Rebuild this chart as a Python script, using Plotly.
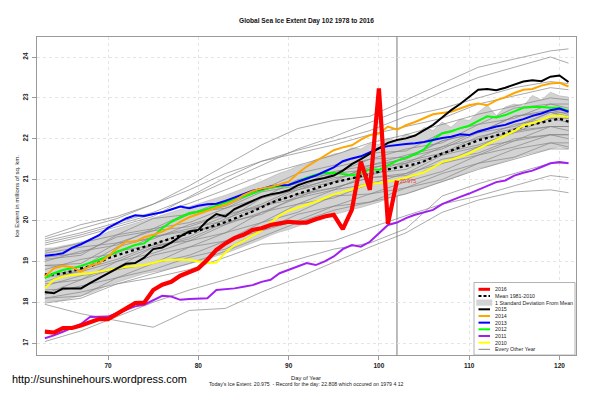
import plotly.graph_objects as go

# ---------------- data ----------------
days = list(range(63, 122))          # day of year for the historical series
days_2016 = list(range(63, 103))     # 2016 so far

y2016 = [17.28, 17.26, 17.37, 17.37, 17.43, 17.51, 17.59, 17.59, 17.72, 17.86,
         17.98, 17.99, 18.30, 18.43, 18.50, 18.65, 18.75, 18.83, 19.04, 19.28,
         19.44, 19.57, 19.65, 19.77, 19.81, 19.89, 19.93, 19.97, 19.95, 19.95,
         20.03, 20.10, 20.14, 19.79, 20.26, 21.44, 20.75, 23.23, 19.92, 20.975]

y2015 = [18.25, 18.22, 18.34, 18.34, 18.34, 18.47, 18.59, 18.73, 18.83, 18.94,
         18.96, 19.09, 19.30, 19.34, 19.46, 19.61, 19.73, 19.77, 20.00, 20.16,
         20.10, 20.28, 20.38, 20.50, 20.58, 20.64, 20.68, 20.74, 20.86, 20.94,
         21.00, 21.04, 21.10, 21.22, 21.38, 21.50, 21.64, 21.77, 21.90, 21.97,
         22.01, 22.08, 22.20, 22.34, 22.52, 22.70, 22.85, 23.02, 23.20, 23.22,
         23.19, 23.25, 23.33, 23.40, 23.43, 23.41, 23.52, 23.55, 23.39]

y2014 = [18.63, 18.83, 18.89, 18.86, 18.75, 18.89, 18.96, 19.12, 19.32, 19.48,
         19.48, 19.59, 19.65, 19.73, 19.83, 19.97, 20.08, 20.16, 20.24, 20.32,
         20.38, 20.48, 20.62, 20.72, 20.78, 20.82, 20.88, 20.95, 21.15, 21.32,
         21.45, 21.58, 21.72, 21.79, 21.84, 21.98, 22.09, 22.13, 22.30, 22.22,
         22.33, 22.41, 22.51, 22.60, 22.63, 22.66, 22.74, 22.82, 22.86, 22.82,
         22.94, 23.02, 23.12, 23.20, 23.22, 23.30, 23.35, 23.37, 23.28]

y2013 = [19.14, 19.16, 19.20, 19.33, 19.42, 19.52, 19.64, 19.82, 19.94, 20.05,
         20.13, 20.11, 20.16, 20.20, 20.27, 20.34, 20.30, 20.36, 20.40, 20.41,
         20.48, 20.56, 20.65, 20.73, 20.77, 20.83, 20.86, 20.87, 20.95, 21.03,
         21.10, 21.20, 21.30, 21.45, 21.52, 21.57, 21.68, 21.77, 21.82, 21.85,
         21.87, 21.89, 21.92, 21.97, 22.02, 22.05, 22.11, 22.09, 22.18, 22.24,
         22.30, 22.34, 22.42, 22.48, 22.56, 22.62, 22.70, 22.74, 22.66]

y2012 = [18.59, 18.71, 18.79, 18.83, 18.89, 18.96, 19.04, 19.13, 19.24, 19.32,
         19.40, 19.44, 19.61, 19.81, 19.97, 20.08, 20.17, 20.22, 20.28, 20.36,
         20.44, 20.52, 20.58, 20.66, 20.74, 20.80, 20.84, 20.86, 20.95, 21.05,
         21.12, 21.16, 21.17, 21.14, 21.11, 21.16, 21.25, 21.24, 21.36, 21.46,
         21.54, 21.62, 21.74, 21.98, 22.13, 22.18, 22.26, 22.32, 22.44, 22.55,
         22.52, 22.58, 22.67, 22.76, 22.78, 22.78, 22.76, 22.76, 22.68]

y2011 = [17.12, 17.19, 17.28, 17.37, 17.47, 17.64, 17.65, 17.65, 17.73, 17.81,
         17.90, 17.94, 18.06, 18.16, 18.14, 18.06, 18.08, 18.09, 18.10, 18.30,
         18.32, 18.34, 18.38, 18.42, 18.50, 18.55, 18.71, 18.79, 18.88, 18.96,
         18.91, 19.00, 19.12, 19.30, 19.40, 19.36, 19.48, 19.69, 19.89, 19.95,
         20.06, 20.14, 20.20, 20.26, 20.40, 20.50, 20.58, 20.66, 20.76, 20.85,
         20.94, 20.98, 21.10, 21.17, 21.22, 21.31, 21.40, 21.43, 21.40]

y2010 = [18.34, 18.55, 18.63, 18.67, 18.69, 18.71, 18.75, 18.79, 18.83, 18.87,
         18.89, 18.91, 18.96, 19.02, 19.04, 19.04, 19.04, 19.00, 18.96, 18.97,
         19.22, 19.40, 19.50, 19.63, 19.76, 19.95, 20.12, 20.24, 20.31, 20.38,
         20.46, 20.55, 20.64, 20.70, 20.76, 20.84, 20.90, 20.92, 20.95, 20.99,
         21.05, 21.11, 21.18, 21.30, 21.43, 21.49, 21.57, 21.64, 21.76, 21.87,
         21.98, 22.07, 22.19, 22.33, 22.38, 22.46, 22.55, 22.57, 22.53]

mean_1981_2010 = [18.68, 18.68, 18.71, 18.76, 18.83, 18.88, 18.97, 19.08, 19.15, 19.22,
                  19.29, 19.36, 19.42, 19.49, 19.56, 19.63, 19.69, 19.75, 19.82, 19.89,
                  19.96, 20.05, 20.13, 20.22, 20.32, 20.43, 20.51, 20.57, 20.65, 20.72,
                  20.80, 20.87, 20.93, 20.98, 21.03, 21.08, 21.14, 21.19, 21.25, 21.29,
                  21.33, 21.38, 21.45, 21.55, 21.64, 21.71, 21.79, 21.88, 21.96, 22.02,
                  22.08, 22.14, 22.22, 22.30, 22.35, 22.40, 22.45, 22.49, 22.42]

sd_upper = [19.32, 19.33, 19.38, 19.42, 19.48, 19.53, 19.62, 19.72, 19.80, 19.87,
            19.93, 20.00, 20.06, 20.13, 20.20, 20.27, 20.33, 20.40, 20.47, 20.55,
            20.62, 20.70, 20.78, 20.87, 20.96, 21.07, 21.16, 21.23, 21.33, 21.38,
            21.49, 21.55, 21.63, 21.66, 21.78, 21.75, 21.88, 21.86, 22.00, 21.95,
            22.12, 22.05, 22.28, 22.20, 22.41, 22.28, 22.48, 22.45, 22.65, 22.82,
            22.57, 22.78, 22.85, 22.80, 23.06, 22.95, 23.14, 23.05, 23.02]

sd_lower = [18.02, 18.03, 18.05, 18.10, 18.16, 18.22, 18.31, 18.42, 18.49, 18.56,
            18.63, 18.70, 18.74, 18.78, 18.84, 18.88, 18.94, 19.00, 19.06, 19.13,
            19.20, 19.28, 19.36, 19.45, 19.54, 19.64, 19.72, 19.78, 19.86, 19.94,
            20.02, 20.09, 20.15, 20.20, 20.27, 20.32, 20.38, 20.45, 20.54, 20.60,
            20.66, 20.72, 20.80, 20.88, 20.95, 21.02, 21.10, 21.20, 21.28, 21.32,
            21.40, 21.46, 21.53, 21.60, 21.65, 21.70, 21.76, 21.80, 21.75]

# every-other-year thin grey lines, sampled on these days
grey_days = [63, 67, 71, 75, 79, 83, 87, 91, 95, 99, 103, 107, 111, 115, 119, 121]
grey_years = [
    [19.55, 19.80, 20.05, 20.40, 20.85, 21.35, 21.85, 22.25, 22.45, 22.55, 22.95, 23.35, 23.75, 23.95, 24.15, 24.20],
    [19.50, 19.70, 19.95, 20.20, 20.55, 20.95, 21.35, 21.75, 22.05, 22.40, 22.75, 23.15, 23.50, 23.75, 24.00, 23.85],
    [19.40, 19.60, 19.85, 20.10, 20.58, 21.05, 21.45, 21.72, 21.95, 22.20, 22.55, 22.74, 23.00, 23.25, 23.40, 23.35],
    [19.60, 19.90, 20.10, 20.40, 20.75, 21.15, 21.45, 21.65, 21.85, 22.10, 22.30, 22.50, 22.85, 23.05, 23.25, 23.20],
    [19.45, 19.65, 19.90, 20.15, 20.42, 20.75, 21.10, 21.35, 21.60, 21.90, 22.10, 22.35, 22.60, 22.80, 23.00, 22.95],
    [19.25, 19.45, 19.65, 20.05, 20.15, 20.50, 20.75, 21.15, 21.35, 21.65, 21.70, 22.15, 22.35, 22.75, 22.85, 22.85],
    [19.10, 19.20, 19.60, 19.75, 20.15, 20.35, 20.75, 20.90, 21.30, 21.50, 21.75, 21.90, 22.35, 22.50, 22.85, 22.75],
    [19.00, 19.25, 19.40, 19.80, 19.95, 20.30, 20.55, 21.00, 21.15, 21.50, 21.55, 21.95, 22.15, 22.55, 22.65, 22.65],
    [18.90, 18.95, 19.45, 19.55, 19.90, 20.15, 20.55, 20.80, 21.15, 21.25, 21.55, 21.75, 22.15, 22.30, 22.65, 22.55],
    [18.80, 19.05, 19.20, 19.60, 19.75, 20.10, 20.40, 20.80, 21.00, 21.30, 21.40, 21.80, 22.00, 22.35, 22.50, 22.50],
    [18.65, 18.80, 19.25, 19.40, 19.75, 19.90, 20.35, 20.55, 20.95, 21.10, 21.40, 21.60, 22.00, 22.15, 22.50, 22.40],
    [18.60, 18.75, 19.00, 19.35, 19.55, 19.95, 20.15, 20.60, 20.80, 21.05, 21.15, 21.60, 21.80, 22.20, 22.30, 22.30],
    [18.45, 18.55, 19.00, 19.20, 19.50, 19.70, 20.20, 20.40, 20.75, 20.90, 21.15, 21.40, 21.80, 21.95, 22.30, 22.20],
    [18.40, 18.65, 18.80, 19.15, 19.35, 19.70, 19.95, 20.40, 20.55, 20.90, 21.00, 21.40, 21.60, 21.95, 22.10, 22.10],
    [18.30, 18.35, 18.80, 18.95, 19.35, 19.50, 19.95, 20.20, 20.60, 20.65, 20.95, 21.20, 21.60, 21.80, 22.10, 22.00],
    [18.20, 18.40, 18.60, 18.95, 19.15, 19.50, 19.75, 20.15, 20.35, 20.65, 20.80, 21.15, 21.40, 21.75, 21.90, 21.90],
    [18.10, 18.15, 18.60, 18.80, 19.10, 19.30, 19.75, 20.00, 20.35, 20.45, 20.80, 21.00, 21.40, 21.55, 21.90, 21.80],
    [17.98, 18.10, 18.45, 18.70, 18.95, 19.25, 19.60, 19.95, 20.25, 20.45, 20.65, 20.95, 21.25, 21.50, 21.75, 21.75],
    [18.20, 18.55, 18.85, 19.35, 19.60, 20.05, 20.35, 20.75, 20.95, 21.35, 21.50, 21.95, 22.15, 22.55, 22.70, 22.70],
    [19.20, 19.35, 19.45, 19.75, 19.85, 20.15, 20.35, 20.65, 20.80, 21.05, 21.10, 21.50, 21.65, 22.00, 22.10, 22.10],
    [18.90, 18.85, 19.35, 19.60, 19.80, 20.00, 20.55, 20.75, 21.05, 21.15, 21.45, 21.65, 22.05, 22.25, 22.65, 22.50],
    [18.50, 18.80, 19.05, 19.40, 19.50, 19.90, 20.20, 20.55, 20.75, 21.15, 21.25, 21.65, 21.85, 22.15, 22.30, 22.30],
    [19.05, 19.15, 19.65, 19.80, 20.20, 20.30, 20.70, 20.85, 21.20, 21.35, 21.60, 21.80, 22.20, 22.40, 22.70, 22.60],
    [17.95, 17.72, 17.55, 17.39, 17.80, 17.85, 18.25, 18.60, 18.98, 19.35, 19.70, 20.20, 20.50, 20.70, 20.75, 20.68],
    [17.04, 17.30, 17.65, 18.00, 18.30, 18.55, 18.82, 19.05, 19.30, 19.45, 19.80, 20.60, 20.90, 21.15, 21.40, 21.40],
    [18.10, 18.25, 18.45, 18.60, 18.80, 19.10, 19.42, 19.47, 19.50, 19.82, 20.12, 20.40, 20.60, 20.85, 21.10, 21.05],
]

x_ticks = [70, 80, 90, 100, 110, 120]
y_ticks = [17, 18, 19, 20, 21, 22, 23, 24]

title_text = "Global Sea Ice Extent Day 102 1978 to 2016"
x_title = "Day of Year"
y_title = "Ice Extent in millions of sq. km."
footnote = "Today's Ice Extent: 20.975  - Record for the day: 22.808 which occured on 1979 4 12"
website = "http://sunshinehours.wordpress.com"

legend_labels = ["2016", "Mean 1981-2010", "1 Standard Deviation From Mean", "2015", "2014",
                 "2013", "2012", "2011", "2010", "Every Other Year"]

# ---------------- styling ----------------
FONT = "Liberation Sans, Arial, sans-serif"
C = {"2016": "#FF0000", "2015": "#000000", "2014": "#FFA500", "2013": "#0000FF",
     "2012": "#00FF00", "2011": "#A020F0", "2010": "#FFFF00"}
GREY = "#858585"

# plot area in pixels
L, R, T, B = 37, 576, 37, 355
W, H = 600, 399

def px(xp):
    return (xp - L) / (R - L)

def py(yp):
    return (B - yp) / (B - T)

fig = go.Figure()

# 1-SD band
fig.add_trace(go.Scatter(x=days + days[::-1], y=sd_upper + sd_lower[::-1],
                         fill="toself", fillcolor="#D3D3D3",
                         line=dict(color="#a8a8a8", width=0.5), mode="lines",
                         hoverinfo="skip"))
# every other year
for g in grey_years:
    fig.add_trace(go.Scatter(x=grey_days, y=g, mode="lines",
                             line=dict(color=GREY, width=0.7)))
# mean
fig.add_trace(go.Scatter(x=days, y=mean_1981_2010, mode="lines",
                         line=dict(color="black", width=2.3, dash="3px,3px")))
# recent years
for name, vals in [("2010", y2010), ("2011", y2011), ("2012", y2012),
                   ("2013", y2013), ("2014", y2014), ("2015", y2015)]:
    fig.add_trace(go.Scatter(x=days, y=vals, mode="lines",
                             line=dict(color=C[name], width=2.0)))
fig.add_trace(go.Scatter(x=days_2016, y=y2016, mode="lines",
                         line=dict(color=C["2016"], width=4.2)))

# today's vertical line
fig.add_shape(type="line", xref="x", yref="paper", x0=days_2016[-1], x1=days_2016[-1],
              y0=0, y1=1, line=dict(color="#555555", width=0.8), layer="below")

# label of today's value
fig.add_annotation(x=days_2016[-1], y=y2016[-1], text=f"{y2016[-1]}", showarrow=False,
                   xanchor="left", yanchor="middle", xshift=1,
                   font=dict(family=FONT, size=5.3, color="#ff3030"))

# ---------------- legend drawn by hand ----------------
lx0, lx1, ly0, ly1 = 474, 575, 282.5, 355
fig.add_shape(type="rect", xref="paper", yref="paper", x0=px(lx0), x1=px(lx1),
              y0=py(ly1), y1=py(ly0), fillcolor="white", line=dict(color="#a0a0a0", width=0.8))
row_y = [289.3 + i * 6.67 for i in range(len(legend_labels))]
sw0, sw1, tx = 478.5, 490, 493.5
styles = [
    dict(color=C["2016"], width=3, dash="solid"),
    dict(color="black", width=2, dash="3px,2px"),
    None,
    dict(color=C["2015"], width=2, dash="solid"),
    dict(color=C["2014"], width=2, dash="solid"),
    dict(color=C["2013"], width=2, dash="solid"),
    dict(color=C["2012"], width=2, dash="solid"),
    dict(color=C["2011"], width=2, dash="solid"),
    dict(color=C["2010"], width=2, dash="solid"),
    dict(color=GREY, width=1, dash="solid"),
]
for lab, yy, st in zip(legend_labels, row_y, styles):
    if st is None:
        fig.add_shape(type="rect", xref="paper", yref="paper", x0=px(476.5), x1=px(492),
                      y0=py(yy + 2.8), y1=py(yy - 2.8), fillcolor="#D3D3D3",
                      line=dict(color="#D3D3D3", width=0.5))
    else:
        fig.add_shape(type="line", xref="paper", yref="paper", x0=px(sw0), x1=px(sw1),
                      y0=py(yy), y1=py(yy), line=st)
    fig.add_annotation(xref="paper", yref="paper", x=px(tx), y=py(yy), text=lab,
                       showarrow=False, xanchor="left", yanchor="middle", borderpad=0,
                       font=dict(family=FONT, size=5.3, color="#222222"))

# ---------------- texts ----------------
fig.add_annotation(xref="paper", yref="paper", x=px(306), y=py(21.5), text=f"<b>{title_text}</b>",
                   showarrow=False, xanchor="center", yanchor="middle",
                   font=dict(family=FONT, size=6.6, color="#111111"))
fig.add_annotation(xref="paper", yref="paper", x=px(306), y=py(377.7), text=x_title,
                   showarrow=False, xanchor="center", yanchor="middle",
                   font=dict(family=FONT, size=5.8, color="#222222"))
fig.add_annotation(xref="paper", yref="paper", x=px(306), y=py(383.8), text=footnote,
                   showarrow=False, xanchor="center", yanchor="middle",
                   font=dict(family=FONT, size=5.2, color="#222222"))
fig.add_annotation(xref="paper", yref="paper", x=px(11), y=py(378.5), text=website,
                   showarrow=False, xanchor="left", yanchor="middle", borderpad=0,
                   font=dict(family=FONT, size=10.9, color="#000000"))
fig.add_annotation(xref="paper", yref="paper", x=px(16.5), y=py(196), text=y_title,
                   showarrow=False, xanchor="center", yanchor="middle", textangle=-90,
                   font=dict(family=FONT, size=6, color="#222222"))

axis_common = dict(showline=True, mirror=True, linecolor="#9a9a9a", linewidth=1,
                   ticks="outside", ticklen=4, tickcolor="#9a9a9a", tickwidth=1,
                   showgrid=True, gridcolor="#e4e4e4", griddash="dot", gridwidth=1,
                   zeroline=False,
                   tickfont=dict(family=FONT, size=6.5, color="#222222", weight="bold"))

fig.update_xaxes(range=[62.13, 121.83], tickvals=x_ticks, ticktext=[str(v) for v in x_ticks],
                 **axis_common)
fig.update_yaxes(range=[16.71, 24.49], tickvals=y_ticks, ticktext=[str(v) for v in y_ticks],
                 tickangle=-90, ticklabelstandoff=1, **axis_common)

fig.update_layout(width=W, height=H, margin=dict(l=L, r=W - R, t=T, b=H - B, pad=0),
                  plot_bgcolor="white", paper_bgcolor="white", showlegend=False,
                  hovermode=False, font=dict(family=FONT))

# the page's default body margin would shift the figure; remove it
fig.write_html("out.html",
               config={"displayModeBar": False, "staticPlot": True},
               post_script="document.body.style.margin='0';document.body.style.padding='0';"
                           "document.body.style.overflow='hidden';")
